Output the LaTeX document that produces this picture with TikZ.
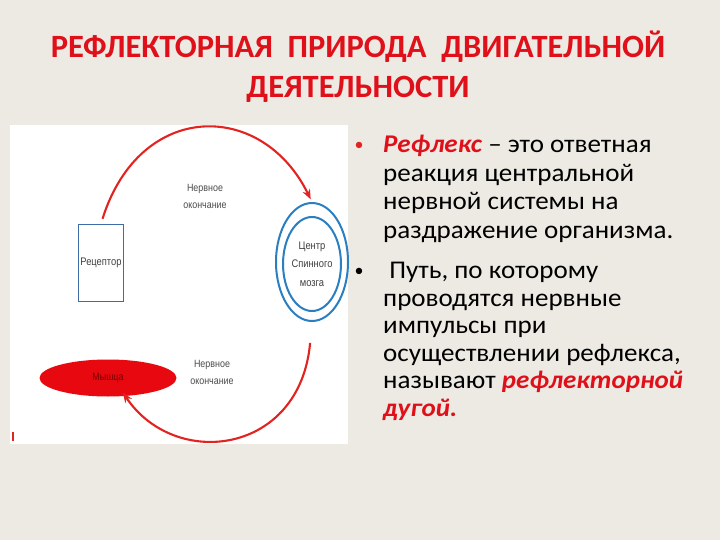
\documentclass[tikz,border=0pt]{standalone}
\usepackage{fontspec}
\setmainfont{Carlito}
\newfontfamily\labelfont[FakeStretch=0.85]{Liberation Sans}
\usetikzlibrary{arrows.meta,shapes.geometric}

\definecolor{slidebg}{HTML}{EDEAE3}
\definecolor{titlered}{HTML}{E0101A}
\definecolor{arcred}{HTML}{E2231F}
\definecolor{nerveblue}{HTML}{2A7EC2}
\definecolor{boxblue}{HTML}{3E6CA6}
\definecolor{musclered}{HTML}{E8080F}

\tikzset{
    arc/.style={arcred,line width=2.1pt,-{Stealth[length=10pt,width=8pt]}},
    lbl/.style={text=black!70,font=\labelfont\fontsize{10.5}{17}\selectfont,align=center,inner sep=0pt},
    txt/.style={align=left,inner sep=0pt,anchor=base west}
}

\begin{document}
\begin{tikzpicture}[x=1pt,y=-1pt]
    \useasboundingbox (0,0) rectangle (720,540);
    \fill[slidebg] (0,0) rectangle (720,540);

    % title (base = last line)
    \node[titlered,font=\bfseries\fontsize{32.5}{40}\selectfont,align=center,anchor=base] (title)
        at (358,98) {РЕФЛЕКТОРНАЯ\ \ ПРИРОДА\ \ ДВИГАТЕЛЬНОЙ\\ДЕЯТЕЛЬНОСТИ};

    % picture panel
    \fill[white] (10,125) rectangle (348,444);
    \draw[arcred,line width=1.4pt] (13,432) -- (13,441);

    % receptor, spinal centre, muscle
    \node[draw=boxblue,line width=1.8pt,minimum width=45pt,minimum height=77pt,inner sep=0pt,
        font=\labelfont\fontsize{11}{12}\selectfont,text=black!75] (rec) at (101,263) {Рецептор};
    \node[ellipse,draw=nerveblue,line width=2pt,minimum width=72pt,minimum height=118pt,inner sep=0pt] (cns) at (312,262) {};
    \node[ellipse,draw=nerveblue,line width=2pt,minimum width=55pt,minimum height=94pt,
        lbl,text=black!75,font=\labelfont\fontsize{11}{18.5}\selectfont] (cnsin) at (312,264) {Центр\\Спинного\\мозга};
    \node[ellipse,fill=musclered,minimum width=137pt,minimum height=37pt,inner sep=0pt,
        text=red!45!black,font=\labelfont\fontsize{10.5}{12}\selectfont] (mus) at (108,378) {Мышца};

    % nerve endings
    \node[lbl] (endtop) at (205,196) {Нервное\\окончание};
    \node[lbl] (endbot) at (212,372) {Нервное\\окончание};

    % reflex arc
    \draw[arc,shorten <=5pt,shorten >=3pt] (rec.north) .. controls (140,100) and (262,100) .. (cns.north);
    \draw[arc,shorten <=21pt] (cns.south) .. controls (300,455) and (175,470) .. ([xshift=15pt,yshift=4pt]mus.south);

    % text
    \node[arcred,font=\fontsize{18}{18}\selectfont,anchor=base] (dot1) at (359,151) {•};
    \node[txt,font=\addfontfeature{FakeStretch=1.06}\fontsize{25.5}{28.5}\selectfont] (def) at (383,238)
        {\textcolor{titlered}{\textbf{\textit{Рефлекс}}} – это ответная\\реакция центральной\\нервной системы на\\раздражение организма.};
    \node[font=\fontsize{18}{18}\selectfont,anchor=base] (dot2) at (359,276) {•};
    \node[txt,font=\addfontfeature{FakeStretch=1.06}\fontsize{25.5}{27.5}\selectfont] (path) at (383,416)
        {\ Путь, по которому\\проводятся нервные\\импульсы при\\осуществлении рефлекса,\\называют \textcolor{titlered}{\textbf{\textit{рефлекторной}}}\\\textcolor{titlered}{\textbf{\textit{дугой.}}}};
\end{tikzpicture}
\end{document}
